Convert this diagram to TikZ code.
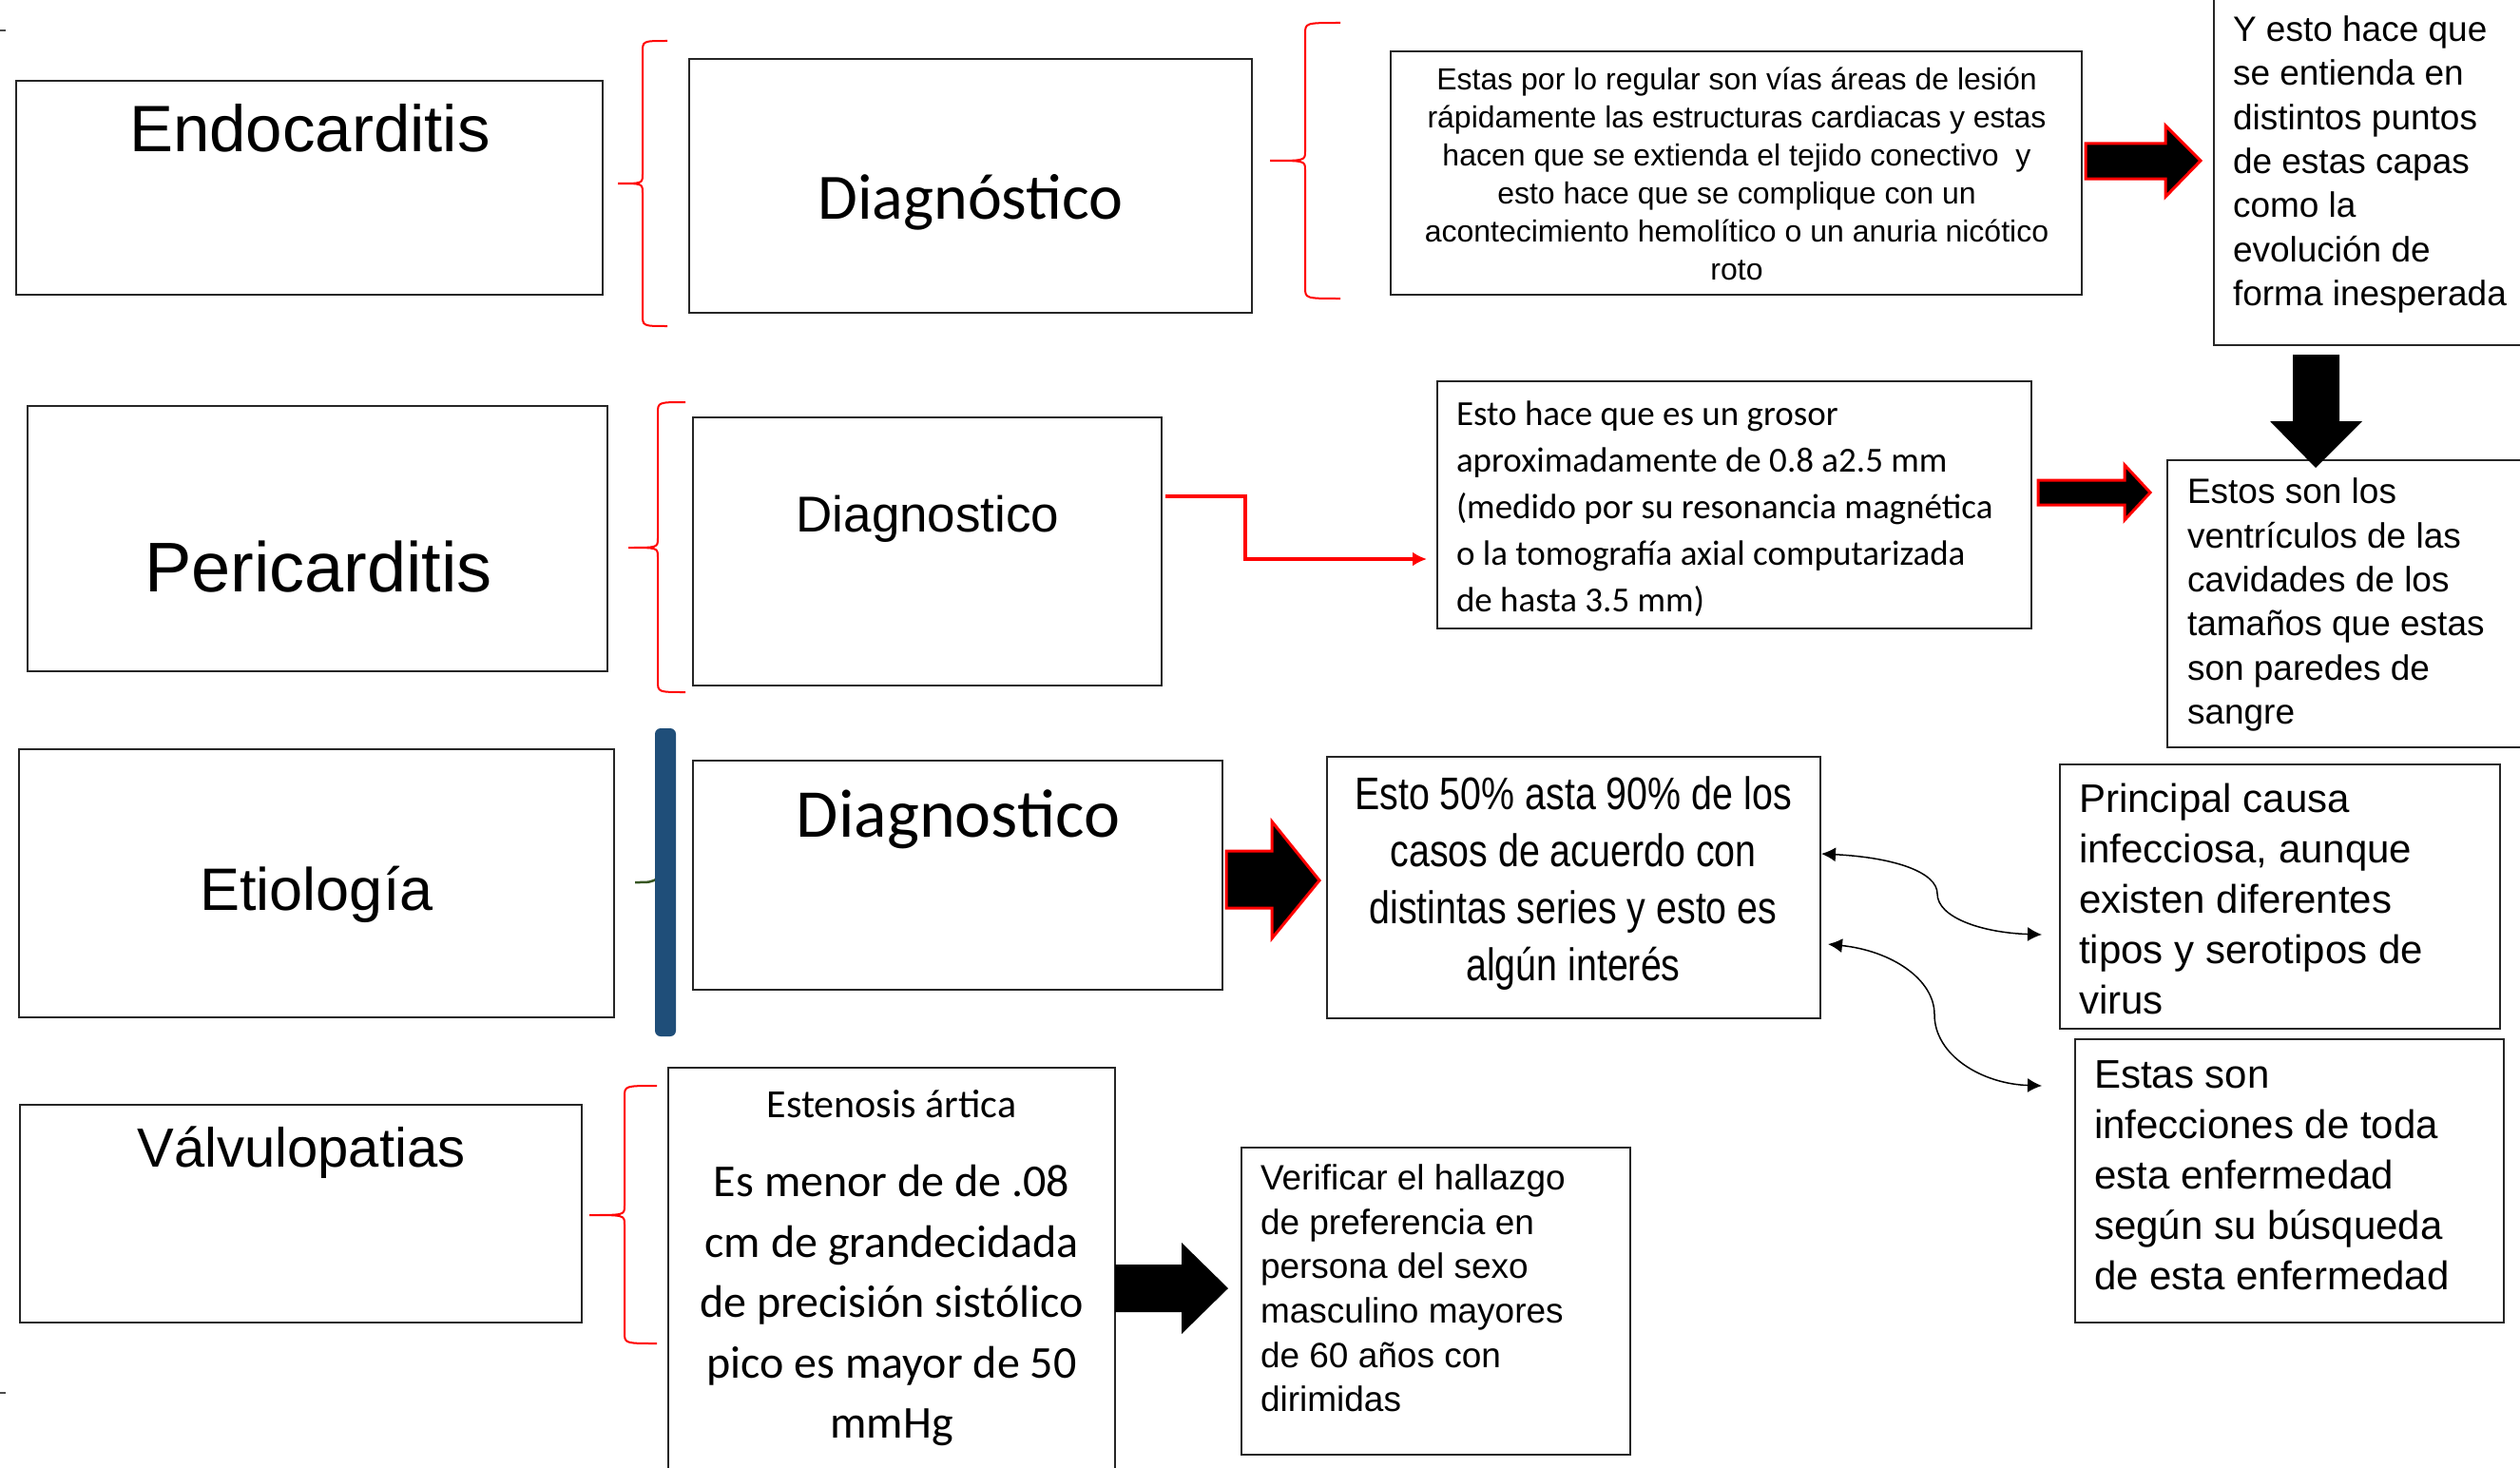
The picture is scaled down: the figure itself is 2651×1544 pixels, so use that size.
\documentclass[tikz,border=0pt]{standalone}
\usepackage{fontspec}
\setmainfont{Liberation Sans}
\newfontfamily\calfont{Carlito}
\newfontfamily\narrowfont[FakeStretch=0.82]{Liberation Sans}
\usetikzlibrary{arrows.meta}
\definecolor{bluebar}{HTML}{1F4E79}
\definecolor{tickgreen}{HTML}{375623}
\tikzset{
  box/.style={draw=black!85, line width=2pt, fill=white, inner sep=0pt, outer sep=0pt},
  lbl/.style={inner sep=0pt, outer sep=0pt, text=black},
  bracestyle/.style={draw=red, line width=2pt},
  blockarrow/.style={fill=black, draw=red, line width=3pt, line join=miter},
  plainarrow/.style={fill=black, draw=none},
  redline/.style={draw=red, line width=3.3pt, -{Latex[length=15pt,width=15pt]}},
  curvearrow/.style={draw=black, line width=1.5pt, {Latex[length=15pt,width=15pt]}-{Latex[length=15pt,width=15pt]}},
}
\newcommand{\mybrace}[6]{%
  \draw[bracestyle] (#3,#4) .. controls (#2,#4) .. (#2,#4+12) -- (#2,#5-10)
    .. controls (#2,#5) .. (#1,#5) .. controls (#2,#5) .. (#2,#5+10)
    -- (#2,#6-12) .. controls (#2,#6) .. (#3,#6);}
\begin{document}
\begin{tikzpicture}[x=1pt,y=-1pt]
\useasboundingbox (0,0) rectangle (2651,1544);
\clip (0,0) rectangle (2651,1544);
\fill[white] (0,0) rectangle (2651,1544);

% tiny marks at the left edge
\draw[black!70, line width=1.5pt] (0,32) -- (6,32);
\draw[black!70, line width=1.5pt] (0,1465) -- (6,1465);

% ---------- boxes ----------
\node[box, minimum width=617pt, minimum height=225pt] (endo) at (325.5,197.5) {};
\node[box, minimum width=592pt, minimum height=267pt] (diag1) at (1021,195.5) {};
\node[box, minimum width=727pt, minimum height=256pt] (lesion) at (1826.5,182) {};
\node[box, minimum width=336pt, minimum height=373pt] (yesto) at (2497,176.5) {};
\node[box, minimum width=610pt, minimum height=279pt] (peri) at (334,566.5) {};
\node[box, minimum width=493pt, minimum height=282pt] (diag2) at (975.5,580) {};
\node[box, minimum width=625pt, minimum height=260pt] (grosor) at (1824.5,531) {};
\node[box, minimum width=385pt, minimum height=302pt] (estos) at (2472.5,635) {};
\node[box, minimum width=626pt, minimum height=282pt] (etio) at (333,929) {};
\node[box, minimum width=557pt, minimum height=241pt] (diag3) at (1007.5,920.5) {};
\node[box, minimum width=519pt, minimum height=275pt] (cinc) at (1655.5,933.5) {};
\node[box, minimum width=463pt, minimum height=278pt] (princ) at (2398.5,943) {};
\node[box, minimum width=451pt, minimum height=298pt] (infec) at (2408.5,1242) {};
\node[box, minimum width=591pt, minimum height=229pt] (valvu) at (316.5,1276.5) {};
\node[box, minimum width=470pt, minimum height=437pt] (esten) at (938,1341.5) {};
\node[box, minimum width=409pt, minimum height=323pt] (verif) at (1510.5,1368.5) {};

% ---------- texts ----------
\node[lbl, anchor=base, font=\fontsize{69}{83}\selectfont] (endo-t) at (326,160) {Endocarditis};
\node[lbl, anchor=base, font=\calfont\fontsize{68}{82}\selectfont] (diag1-t) at (1021,230) {Diagnóstico};
\node[lbl, anchor=base, font=\fontsize{74}{89}\selectfont] (peri-t) at (335,622) {Pericarditis};
\node[lbl, anchor=base, font=\fontsize{53}{64}\selectfont] (diag2-t) at (976,559) {Diagnostico};
\node[lbl, anchor=base, font=\fontsize{63}{76}\selectfont] (etio-t) at (333,957) {Etiología};
\node[lbl, anchor=base, font=\calfont\fontsize{72}{86}\selectfont] (diag3-t) at (1008,880) {Diagnostico};
\node[lbl, anchor=base, font=\fontsize{58}{70}\selectfont] (valvu-t) at (317,1227) {Válvulopatias};

\node[lbl, align=center, font=\fontsize{32}{40}\selectfont] (lesion-t) at (1827,183)
  {Estas por lo regular son vías áreas de lesión\\
   rápidamente las estructuras cardiacas y estas\\
   hacen que se extienda el tejido conectivo\ \ y\\
   esto hace que se complique con un\\
   acontecimiento hemolítico o un anuria nicótico\\
   roto};
\node[lbl, align=left, anchor=west, font=\fontsize{37}{46.3}\selectfont] (yesto-t) at (2349,173)
  {Y esto hace que\\ se entienda en\\ distintos puntos\\ de estas capas\\ como la\\ evolución de\\ forma inesperada};
\node[lbl, align=left, anchor=west, font=\calfont\fontsize{37}{49}\selectfont] (grosor-t) at (1532,535)
  {Esto hace que es un grosor\\ aproximadamente de 0.8 a2.5 mm\\ (medido por su resonancia magnética\\ o la tomografía axial computarizada\\ de hasta 3.5 mm)};
\node[lbl, align=left, anchor=west, font=\fontsize{37}{46.3}\selectfont] (estos-t) at (2301,636)
  {Estos son los\\ ventrículos de las\\ cavidades de los\\ tamaños que estas\\ son paredes de\\ sangre};
\node[lbl, align=center, font=\narrowfont\fontsize{48}{60}\selectfont] (cinc-t) at (1655,929)
  {Esto 50\% asta 90\% de los\\ casos de acuerdo con\\ distintas series y esto es\\ algún interés};
\node[lbl, align=left, anchor=west, font=\fontsize{42}{53}\selectfont] (princ-t) at (2187,945)
  {Principal causa\\ infecciosa, aunque\\ existen diferentes\\ tipos y serotipos de\\ virus};
\node[lbl, align=left, anchor=west, font=\fontsize{42}{53}\selectfont] (infec-t) at (2203,1236)
  {Estas son\\ infecciones de toda\\ esta enfermedad\\ según su búsqueda\\ de esta enfermedad};
\node[lbl, anchor=base, font=\calfont\fontsize{42}{50}\selectfont] (esten-h) at (938,1175) {Estenosis ártica};
\node[lbl, align=center, font=\calfont\fontsize{48}{63.5}\selectfont] (esten-t) at (938,1373)
  {Es menor de de .08\\ cm de grandecidada\\ de precisión sistólico\\ pico es mayor de 50\\ mmHg};
\node[lbl, align=left, anchor=west, font=\fontsize{37}{46.7}\selectfont] (verif-t) at (1326,1355)
  {Verificar el hallazgo\\ de preferencia en\\ persona del sexo\\ masculino mayores\\ de 60 años con\\ dirimidas};

% ---------- braces ----------
\mybrace{650}{676}{702}{43}{193}{343}
\mybrace{1336}{1373}{1410}{24}{169}{314}
\mybrace{661}{692}{721}{423}{576}{728}
\mybrace{620}{657}{691}{1142}{1278}{1413}
% blue bar brace
\draw[tickgreen, line width=2.5pt] (668,928) .. controls (684,928) .. (692,924);
\fill[bluebar, rounded corners=6pt] (689,766) rectangle (711,1090);

% ---------- block arrows ----------
\draw[blockarrow] (2194,151) -- (2278,151) -- (2278,132) -- (2315,169) -- (2278,207) -- (2278,188) -- (2194,188) -- cycle;
\draw[blockarrow] (2144,505) -- (2235,505) -- (2235,489) -- (2262,518) -- (2235,547) -- (2235,531) -- (2144,531) -- cycle;
\draw[blockarrow] (1290,895) -- (1338,895) -- (1338,864) -- (1388,926) -- (1338,987) -- (1338,955) -- (1290,955) -- cycle;
\fill[plainarrow] (1173,1330) -- (1243,1330) -- (1243,1307) -- (1292,1355) -- (1243,1403) -- (1243,1380) -- (1173,1380) -- cycle;
\fill[plainarrow] (2412,373) -- (2461,373) -- (2461,443) -- (2485,443) -- (2436,492) -- (2388,443) -- (2412,443) -- cycle;

% ---------- connectors ----------
\draw[redline, shorten >=11pt] ([xshift=4pt]diag2.east |- 0,522) -- (1310,522) -- (1310,588) -- (grosor.west |- 0,588);

\coordinate (ca1) at ([xshift=1pt]cinc.east |- 0,898);
\coordinate (cb1) at ([xshift=-19pt]princ.west |- 0,983);
\draw[curvearrow] (ca1) .. controls (1995,902) and (2038,918) .. (2038,940)
   .. controls (2038,965) and (2085,981) .. (cb1);
\coordinate (ca2) at ([xshift=8pt]cinc.east |- 0,993);
\coordinate (cb2) at ([xshift=-19pt]princ.west |- 0,1142);
\draw[curvearrow] (ca2) .. controls (1990,1000) and (2035,1030) .. (2035,1067)
   .. controls (2035,1110) and (2085,1140) .. (cb2);
\end{tikzpicture}
\end{document}
